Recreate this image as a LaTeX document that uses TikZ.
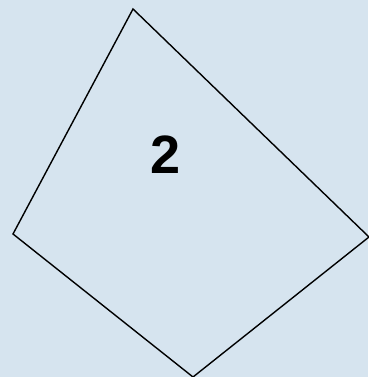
\documentclass[tikz,border=0pt]{standalone}
\usepackage{fontspec}
\setmainfont{Liberation Sans}
\usepackage{tikz}
\definecolor{paper}{HTML}{D6E4EF}

\begin{document}
\begin{tikzpicture}[x=1pt,y=1pt]
\useasboundingbox (0,0) rectangle (368,377);
\fill[paper] (0,0) rectangle (368,377);
\coordinate (top) at (133,368);
\coordinate (right) at (369,140);
\coordinate (bottom) at (193,0);
\coordinate (left) at (13,143);
\draw[line width=1.4pt, line join=miter] (top) -- (right) -- (bottom) -- (left) -- cycle;
\node (lbl) at (166,222) {\fontsize{54}{54}\selectfont\bfseries 2};
\end{tikzpicture}
\end{document}
